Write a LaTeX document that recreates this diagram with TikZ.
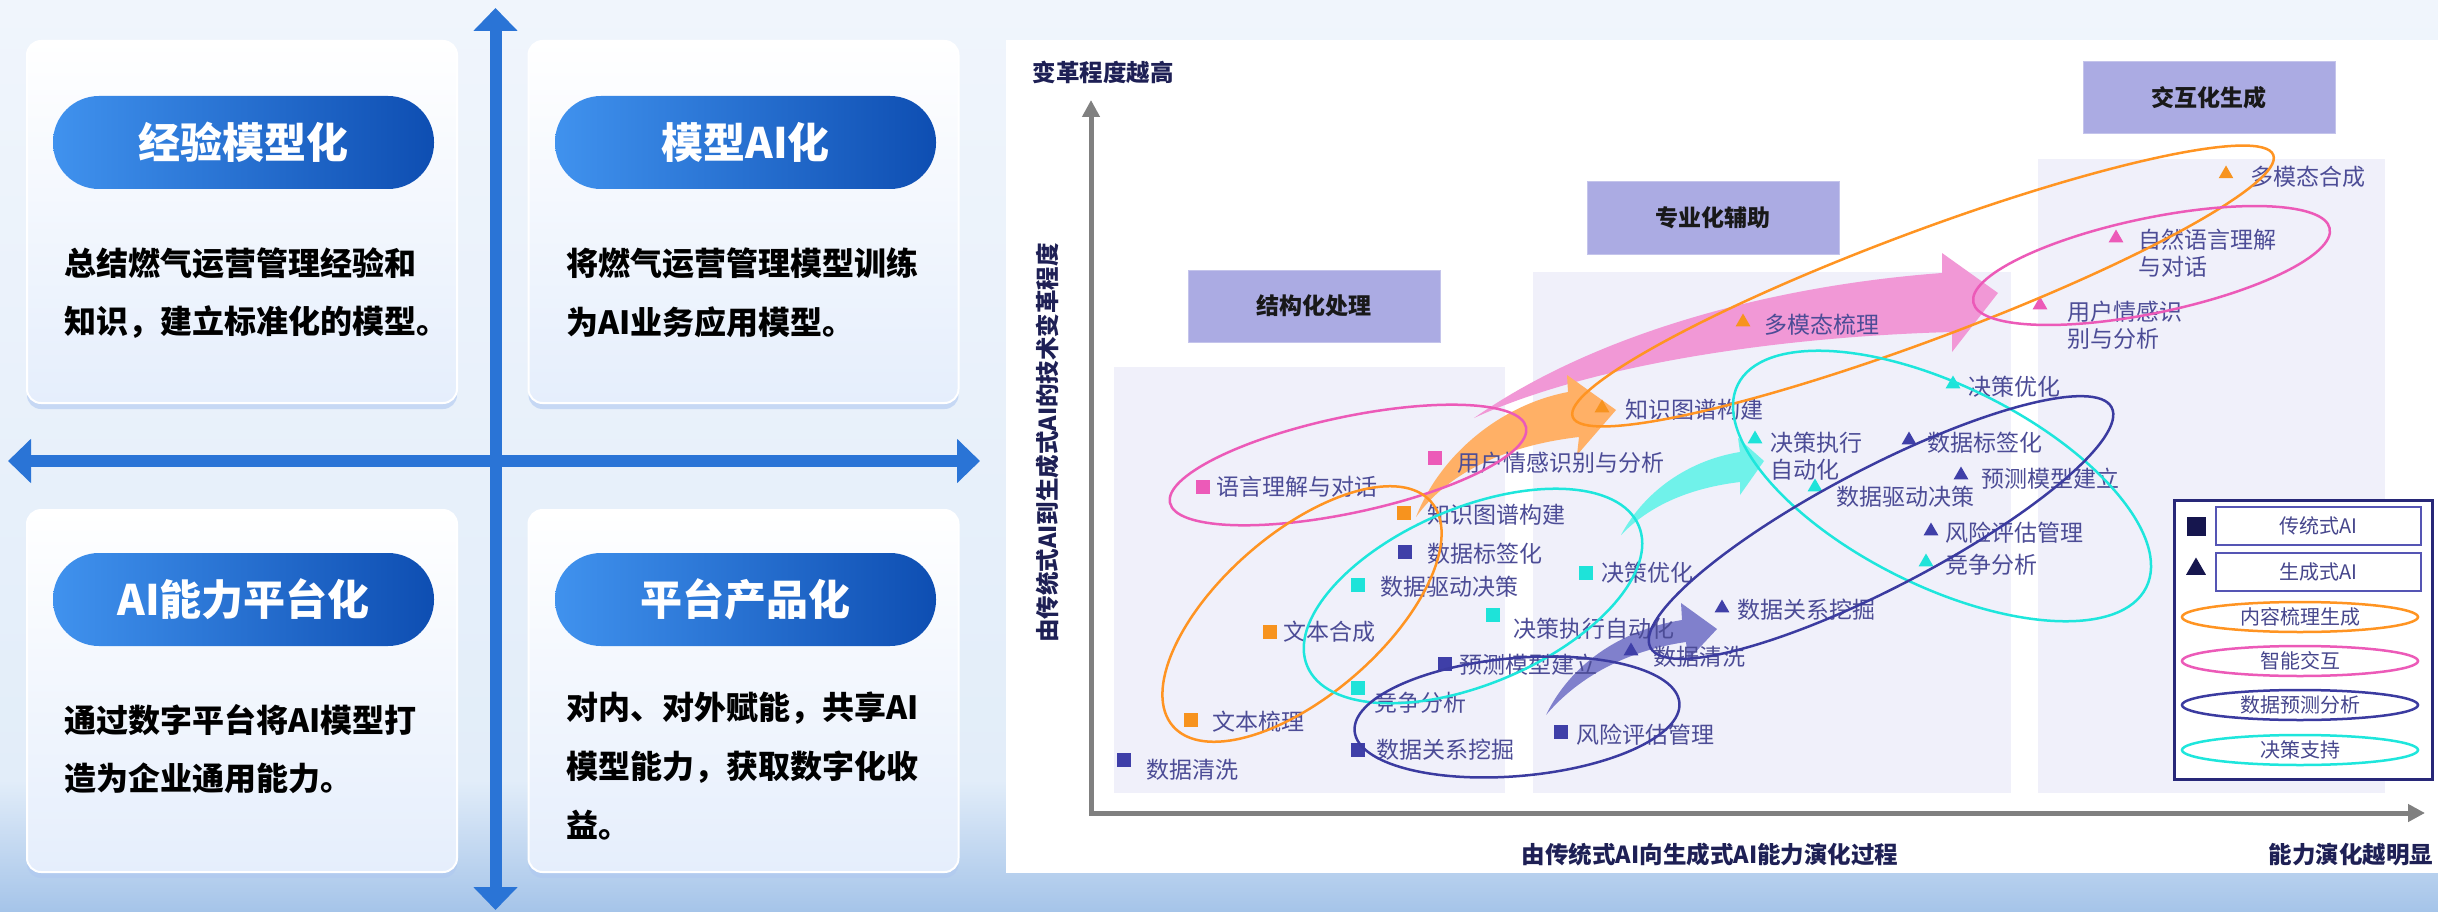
\documentclass[tikz,border=0pt]{standalone}
\usepackage{fontspec}
\newfontfamily\cjk{Noto Sans CJK SC}
\usetikzlibrary{arrows.meta,shapes.geometric,shadows}
\definecolor{bgtop}{RGB}{240,245,252}
\definecolor{bgmid}{RGB}{226,237,249}
\definecolor{bgbot}{RGB}{165,196,233}
\definecolor{cardbot}{RGB}{229,238,252}
\definecolor{shadowblue}{RGB}{175,200,240}
\definecolor{pillL}{RGB}{64,146,238}
\definecolor{pillR}{RGB}{14,78,178}
\definecolor{crossblue}{RGB}{42,116,214}
\definecolor{axgray}{RGB}{128,128,128}
\definecolor{region}{RGB}{240,240,250}
\definecolor{catfill}{RGB}{171,171,227}
\definecolor{navytext}{RGB}{30,32,85}
\definecolor{lblcol}{RGB}{76,76,150}
\definecolor{mkorange}{RGB}{247,147,30}
\definecolor{mkpink}{RGB}{236,90,184}
\definecolor{mknavy}{RGB}{63,63,168}
\definecolor{mkcyan}{RGB}{30,227,217}
\definecolor{elorange}{RGB}{255,148,34}
\definecolor{elpink}{RGB}{236,90,184}
\definecolor{elnavy}{RGB}{59,59,160}
\definecolor{elcyan}{RGB}{30,230,220}
\definecolor{arrpink}{RGB}{241,152,214}
\definecolor{arrorange}{RGB}{255,176,102}
\definecolor{arrcyan}{RGB}{112,242,234}
\definecolor{arrpurple}{RGB}{128,128,204}
\definecolor{legframe}{RGB}{40,40,120}
\definecolor{legbox}{RGB}{85,85,180}
\definecolor{legtext}{RGB}{70,70,140}
\definecolor{legmk}{RGB}{22,22,78}
\begin{document}
\begin{tikzpicture}[x=1pt,y=-1pt,
  every node/.style={inner sep=0pt,outer sep=0pt},
  card/.style={draw=white,line width=2pt,rounded corners=14pt,top color=white,bottom color=cardbot,
    minimum width=430pt,minimum height=362pt,
    drop shadow={shadow xshift=0pt,shadow yshift=-6pt,fill=shadowblue,opacity=0.6}},
  pill/.style={rounded corners=46pt,minimum width=381pt,minimum height=93pt,left color=pillL,right color=pillR,
    font=\cjk\bfseries\fontsize{42}{50}\selectfont,text=white},
  body/.style={anchor=west,font=\cjk\bfseries\fontsize{32}{38}\selectfont,text=black},
  crossarr/.style={line width=12pt,draw=crossblue,{Triangle[length=23pt,width=43pt]}-{Triangle[length=23pt,width=43pt]}},
  axisline/.style={line width=5pt,draw=axgray,line join=miter,{Triangle[length=17pt,width=17pt]}-{Triangle[length=17pt,width=17pt]}},
  axlbl/.style={font=\cjk\bfseries\fontsize{23.5}{28}\selectfont,text=navytext},
  catbox/.style={fill=catfill,draw=catfill!70!white,line width=1pt,minimum width=252pt,minimum height=72pt,
    font=\cjk\bfseries\fontsize{23}{27}\selectfont,text=black!90},
  lbl/.style={anchor=west,align=left,font=\cjk\fontsize{23}{27}\selectfont,text=lblcol},
  mksq/.style={fill=#1,minimum width=14pt,minimum height=14pt},
  mktri/.style={regular polygon,regular polygon sides=3,fill=#1,minimum size=17pt},
  ell/.style={draw=#1,line width=2.5pt},
  legitem/.style={draw=legbox,line width=2pt,fill=white,minimum width=205pt,minimum height=38pt,
    font=\cjk\fontsize{20}{24}\selectfont,text=legtext},
  legell/.style={ellipse,draw=#1,line width=2.5pt,fill=white,minimum width=236pt,minimum height=30pt,
    font=\cjk\fontsize{20}{24}\selectfont,text=legtext}
]
\useasboundingbox (0,0) rectangle (2438,912);
% background
\fill[top color=bgtop,bottom color=bgmid] (0,0) rectangle (2438,780);
\fill[top color=bgmid,bottom color=bgbot] (0,780) rectangle (2438,912);

% ---------- left panel ----------
\node[card] (c1) at (242,222) {};
\node[card] (c2) at (743.5,222) {};
\node[card] (c3) at (242,691) {};
\node[card] (c4) at (743.5,691) {};

\coordinate (vtop) at (495.5,8);
\coordinate (vbot) at (495.5,910);
\coordinate (hl) at (8,461);
\coordinate (hr) at (980,461);
\draw[crossarr] (hl) -- (hr);
\draw[crossarr] (vtop) -- (vbot);

\node[pill] (p1) at (243.5,142.5) {经验模型化};
\node[pill] (p2) at (745.5,142.5) {模型AI化};
\node[pill] (p3) at (243.5,599.5) {AI能力平台化};
\node[pill] (p4) at (745.5,599.5) {平台产品化};

\node[body] (b1a) at (64,263) {总结燃气运营管理经验和};
\node[body] (b1b) at (64,322) {知识，建立标准化的模型。};
\node[body] (b2a) at (566,263) {将燃气运营管理模型训练};
\node[body] (b2b) at (566,322) {为AI业务应用模型。};
\node[body] (b3a) at (64,720) {通过数字平台将AI模型打};
\node[body] (b3b) at (64,778) {造为企业通用能力。};
\node[body] (b4a) at (566,708) {对内、对外赋能，共享AI};
\node[body] (b4b) at (566,767) {模型能力，获取数字化收};
\node[body] (b4c) at (566,825) {益。};

% ---------- chart ----------
\fill[white] (1006,40) rectangle (2438,873);
\fill[region] (1114,367) rectangle (1505,793);
\fill[region] (1533,272) rectangle (2011,793);
\fill[region] (2038,159) rectangle (2385,793);

\node[catbox] (cat1) at (1314,306) {结构化处理};
\node[catbox] (cat2) at (1713,218) {专业化辅助};
\node[catbox] (cat3) at (2209,98) {交互化生成};

\coordinate (origin) at (1091,813);
\coordinate (ytip) at (1091,100);
\coordinate (xtip) at (2425,813);
\draw[axisline] (ytip) -- (origin) -- (xtip);

\node[axlbl] (ytop) at (1103,72) {变革程度越高};
\node[axlbl,rotate=90] (ylab) at (1048,443) {由传统式AI到生成式AI的技术变革程度};
\node[axlbl] (xlab) at (1710,855) {由传统式AI向生成式AI能力演化过程};
\node[axlbl] (xend) at (2351,855) {能力演化越明显};

% fat arrows
\fill[arrpink] (1474,418) .. controls (1600,330) and (1780,285) .. (1942,273) -- (1942,253) -- (1998,293)
  -- (1952,352) -- (1952,332) .. controls (1800,336) and (1600,360) .. (1474,418) -- cycle;
\fill[arrorange] (1416,517) .. controls (1440,455) and (1500,405) .. (1568,392) -- (1567,375) -- (1616,410)
  -- (1577,455) -- (1579,437) .. controls (1510,445) and (1450,470) .. (1416,517) -- cycle;
\fill[arrcyan] (1621,535) .. controls (1645,490) and (1690,460) .. (1740,452) -- (1738,438) -- (1764,461)
  -- (1740,495) -- (1740,482) .. controls (1690,488) and (1650,505) .. (1621,535) -- cycle;
\fill[arrpurple] (1546,715) .. controls (1570,665) and (1620,630) .. (1682,620) -- (1681,603) -- (1717,629)
  -- (1688,660) -- (1686,642) .. controls (1630,650) and (1580,675) .. (1546,715) -- cycle;

% traditional AI (squares)
\node[mksq=mkpink] (s1) at (1203,487) {};   \node[lbl] (ls1) at (1216,487) {语言理解与对话};
\node[mksq=mkpink] (s2) at (1435,458) {};   \node[lbl] (ls2) at (1457,463) {用户情感识别与分析};
\node[mksq=mkorange] (s3) at (1404,513) {}; \node[lbl] (ls3) at (1427,515) {知识图谱构建};
\node[mksq=mknavy] (s4) at (1405,552) {};   \node[lbl] (ls4) at (1427,554) {数据标签化};
\node[mksq=mkcyan] (s5) at (1358,585) {};   \node[lbl] (ls5) at (1380,587) {数据驱动决策};
\node[mksq=mkorange] (s6) at (1270,632) {}; \node[lbl] (ls6) at (1283,632) {文本合成};
\node[mksq=mkcyan] (s7) at (1586,573) {};   \node[lbl] (ls7) at (1601,573) {决策优化};
\node[mksq=mkcyan] (s8) at (1493,615) {};   \node[lbl] (ls8) at (1513,629) {决策执行自动化};
\node[mksq=mknavy] (s9) at (1445,664) {};   \node[lbl] (ls9) at (1459,665) {预测模型建立};
\node[mksq=mkcyan] (s10) at (1358,688) {};  \node[lbl] (ls10) at (1374,703) {竞争分析};
\node[mksq=mkorange] (s11) at (1191,720) {};\node[lbl] (ls11) at (1212,722) {文本梳理};
\node[mksq=mknavy] (s12) at (1358,750) {};  \node[lbl] (ls12) at (1376,750) {数据关系挖掘};
\node[mksq=mknavy] (s13) at (1124,760) {};  \node[lbl] (ls13) at (1146,770) {数据清洗};
\node[mksq=mknavy] (s14) at (1561,732) {};  \node[lbl] (ls14) at (1576,735) {风险评估管理};

% generative AI (triangles)
\node[mktri=mkorange] (t1) at (1602,408) {}; \node[lbl] (lt1) at (1625,410) {知识图谱构建};
\node[mktri=mkorange] (t2) at (1743,322) {}; \node[lbl] (lt2) at (1764,325) {多模态梳理};
\node[mktri=mkcyan] (t3) at (1755,439) {};   \node[lbl] (lt3) at (1770,456.5) {决策执行\\自动化};
\node[mktri=mknavy] (t4) at (1909,440) {};   \node[lbl] (lt4) at (1927,443) {数据标签化};
\node[mktri=mkcyan] (t5) at (1815,487) {};   \node[lbl] (lt5) at (1836,497) {数据驱动决策};
\node[mktri=mknavy] (t6) at (1961,475) {};   \node[lbl] (lt6) at (1981,479) {预测模型建立};
\node[mktri=mknavy] (t7) at (1931,531) {};   \node[lbl] (lt7) at (1945,533) {风险评估管理};
\node[mktri=mkcyan] (t8) at (1926,562) {};   \node[lbl] (lt8) at (1945,565) {竞争分析};
\node[mktri=mknavy] (t9) at (1722,608) {};   \node[lbl] (lt9) at (1737,610) {数据关系挖掘};
\node[mktri=mknavy] (t10) at (1631,651) {};  \node[lbl] (lt10) at (1653,657) {数据清洗};
\node[mktri=mkorange] (t11) at (2226,174) {};\node[lbl] (lt11) at (2250,177) {多模态合成};
\node[mktri=mkpink] (t12) at (2116,238) {};  \node[lbl] (lt12) at (2138,253.5) {自然语言理解\\与对话};
\node[mktri=mkpink] (t13) at (2040,305) {};  \node[lbl] (lt13) at (2067,325.5) {用户情感识\\别与分析};
\node[mktri=mkcyan] (t14) at (1953,384) {};  \node[lbl] (lt14) at (1968,387) {决策优化};

% group ellipses
\draw[ell=elpink,rotate around={12:(1348,465)}] (1348,465) ellipse [x radius=182pt,y radius=48pt];
\draw[ell=elorange,rotate around={41:(1302,614)}] (1302,614) ellipse [x radius=171pt,y radius=81pt];
\draw[ell=elcyan,rotate around={23:(1473,596)}] (1473,596) ellipse [x radius=180pt,y radius=88pt];
\draw[ell=elnavy,rotate around={5:(1517,717)}] (1517,717) ellipse [x radius=163pt,y radius=59pt];
\draw[ell=elorange,rotate around={20.5:(1923,286)}] (1923,286) ellipse [x radius=374pt,y radius=54pt];
\draw[ell=elpink,rotate around={11.75:(2151.5,265.5)}] (2151.5,265.5) ellipse [x radius=182pt,y radius=47.5pt];
\draw[ell=elcyan,rotate around={-26.4:(1942,486)}] (1942,486) ellipse [x radius=228pt,y radius=100pt];
\draw[ell=elnavy,rotate around={27.5:(1881,527.5)}] (1881,527.5) ellipse [x radius=260pt,y radius=60pt];

% legend
\node[draw=legframe,line width=3pt,fill=white,minimum width=258pt,minimum height=279pt] (legend) at (2303,639.5) {};
\node[mksq=legmk,minimum width=19pt,minimum height=19pt] (lgsq) at (2196,526) {};
\node[legitem] (lg1) at (2318.5,526) {传统式AI};
\node[mktri=legmk,minimum size=23pt] (lgtri) at (2196,569) {};
\node[legitem] (lg2) at (2318.5,571.5) {生成式AI};
\node[legell=elorange] (lg3) at (2300,617) {内容梳理生成};
\node[legell=elpink] (lg4) at (2300,661) {智能交互};
\node[legell=elnavy] (lg5) at (2300,705) {数据预测分析};
\node[legell=elcyan] (lg6) at (2300,750) {决策支持};
\end{tikzpicture}
\end{document}
